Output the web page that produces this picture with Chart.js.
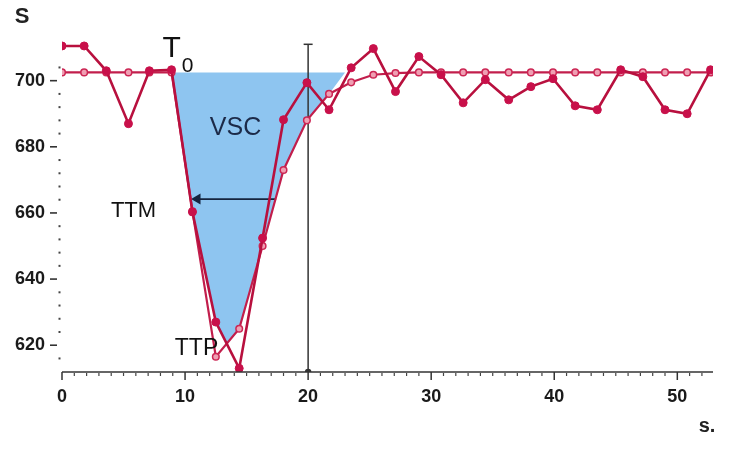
<!DOCTYPE html>
<html><head><meta charset="utf-8">
<script src="https://cdn.jsdelivr.net/npm/chart.js@4/dist/chart.umd.min.js"></script>
<style>html,body{margin:0;padding:0;background:#fff}#wrap{width:731px;height:451px}</style>
</head><body><div id="wrap"><canvas id="c" width="731" height="451"></canvas></div>
<script>
// ---- data ----
const times    = [0, 1.8, 3.6, 5.4, 7.1, 8.9, 10.6, 12.5, 14.4, 16.3, 18.0, 19.9, 21.7, 23.5, 25.3, 27.1, 29.0, 30.8, 32.6, 34.4, 36.3, 38.1, 39.9, 41.7, 43.5, 45.4, 47.2, 49.0, 50.8, 52.7];
const measured = [710.5, 710.5, 703, 687, 703, 703.3, 660.3, 627, 613, 652.4, 688.2, 699.4, 691.2, 703.9, 709.7, 696.7, 707.3, 701.8, 693.3, 700.3, 694.2, 698.2, 700.6, 692.4, 691.2, 703.3, 701.2, 691.2, 690, 703.3];
const fitted   = [702.5, 702.5, 702.5, 702.5, 702.5, 702.5, 660.5, 616.5, 625, 650, 673, 688, 696, 699.5, 701.8, 702.3, 702.5, 702.5, 702.5, 702.5, 702.5, 702.5, 702.5, 702.5, 702.5, 702.5, 702.5, 702.5, 702.5, 702.5];
const vscTimes  = [8.9, 10.6, 12.5, 13.4, 14.4, 16.3, 18.0, 19.9, 21.7, 23.0];
const vscValues = [702.5, 660.5, 627, 620.5, 625, 651, 673, 688, 696, 702.5];
const baselineValue = 702.5;
const markerTime = 20;
const markerRange = [611.9, 711];
const ttmTimes = [11.0, 17.4];
const ttmValue = 664.2;
const xTickValues = [0, 10, 20, 30, 40, 50];
const yTickValues = [620, 640, 660, 680, 700];
const xRange = [0, 52.9];
const yRange = [611.9, 712];

const pts = (xs, ys) => xs.map((x, i) => ({x, y: ys[i]}));
const FONT = "'Liberation Sans', Arial, sans-serif";

const decor = {
  id: 'decor',
  afterDraw(chart) {
    const {ctx, chartArea: ca, scales: {x, y}} = chart;
    ctx.save();
    ctx.strokeStyle = '#333'; ctx.lineWidth = 1.6;
    ctx.beginPath(); ctx.moveTo(ca.left, ca.bottom); ctx.lineTo(ca.right, ca.bottom); ctx.stroke();
    ctx.lineWidth = 1.5;
    xTickValues.forEach(v => { const px = x.getPixelForValue(v); ctx.beginPath(); ctx.moveTo(px, ca.bottom); ctx.lineTo(px, ca.bottom + 8); ctx.stroke(); });
    ctx.lineWidth = 1.2; ctx.strokeStyle = '#444';
    for (let v = 1; v <= Math.floor(xRange[1]); v++) {
      if (v % 10 === 0) continue;
      const px = x.getPixelForValue(v);
      ctx.beginPath(); ctx.moveTo(px, ca.bottom + 1); ctx.lineTo(px, ca.bottom + 4); ctx.stroke();
    }
    ctx.fillStyle = '#444';
    for (let v = 616; v <= 704; v += 4) {
      if (v % 20 === 0) continue;
      const py = y.getPixelForValue(v);
      ctx.fillRect(ca.left - 3.5, py - 1, 2, 2);
    }
    ctx.strokeStyle = '#333'; ctx.lineWidth = 1.6;
    yTickValues.forEach(v => { const py = y.getPixelForValue(v); ctx.beginPath(); ctx.moveTo(ca.left - 12, py); ctx.lineTo(ca.left - 5, py); ctx.stroke(); });

    const P = (vx, vy) => [x.getPixelForValue(vx), y.getPixelForValue(vy)];
    ctx.fillStyle = '#111';
    ctx.textAlign = 'left'; ctx.textBaseline = 'alphabetic';
    ctx.font = '30px ' + FONT; let p = P(8.17, 707.2); ctx.fillText('T', p[0], p[1]);
    ctx.font = '21px ' + FONT; p = P(9.73, 702.6); ctx.fillText('0', p[0], p[1]);
    ctx.textAlign = 'center'; ctx.textBaseline = 'middle';
    ctx.fillStyle = '#1c2a48'; ctx.font = '25px ' + FONT; p = P(14.1, 685.7); ctx.fillText('VSC', p[0], p[1]);
    ctx.fillStyle = '#111'; ctx.font = '22px ' + FONT; p = P(5.81, 660.5); ctx.fillText('TTM', p[0], p[1]);
    ctx.font = '23px ' + FONT; p = P(10.93, 618.9); ctx.fillText('TTP', p[0], p[1]);
    ctx.font = 'bold 22px ' + FONT; ctx.fillStyle = '#222';
    ctx.fillText('S', ca.left - 40, ca.top - 24);
    ctx.font = 'bold 20px ' + FONT;
    ctx.fillText('s.', ca.right - 6, 426);
    ctx.restore();
  }
};

new Chart(document.getElementById('c'), {
  type: 'line',
  data: {
    datasets: [
      { label: 'measured', data: pts(times, measured), order: 1,
        borderColor: '#b8103e', borderWidth: 2.6, tension: 0,
        pointRadius: 4, pointBackgroundColor: '#c8104a', pointBorderColor: '#c8104a', pointBorderWidth: 1 },
      { label: 'fitted', data: pts(times, fitted), order: 2,
        borderColor: '#c21e4c', borderWidth: 2.2, tension: 0,
        pointRadius: 3.3, pointBackgroundColor: '#ef9fb3', pointBorderColor: '#cc2654', pointBorderWidth: 1.5 },
      { label: 'marker', data: pts([markerTime, markerTime], markerRange), order: 3,
        borderColor: '#333', borderWidth: 1.5,
        pointStyle: ctx => ctx.dataIndex === 1 ? 'line' : 'circle',
        pointRadius: ctx => ctx.dataIndex === 1 ? 4.5 : 2.5,
        pointBorderColor: '#333', pointBackgroundColor: '#333', pointBorderWidth: 1.5 },
      { label: 'ttm', data: pts(ttmTimes, [ttmValue, ttmValue]), order: 4,
        borderColor: '#15243f', borderWidth: 1.8,
        pointStyle: 'triangle', pointRotation: 270,
        pointRadius: ctx => ctx.dataIndex === 0 ? 4.5 : 0,
        pointBackgroundColor: '#15243f', pointBorderColor: '#15243f' },
      { label: 'vsc', data: pts(vscTimes, vscValues), order: 10,
        borderWidth: 0, borderColor: 'rgba(0,0,0,0)', pointRadius: 0, tension: 0,
        fill: {value: baselineValue}, backgroundColor: 'rgb(142,197,240)' }
    ]
  },
  options: {
    responsive: false, animation: false,
    layout: {padding: {top: 41, right: 18, left: 0, bottom: 0}},
    plugins: {legend: {display: false}, tooltip: {enabled: false}},
    scales: {
      x: { type: 'linear', min: xRange[0], max: xRange[1],
        afterBuildTicks: s => { s.ticks = xTickValues.map(v => ({value: v})); },
        afterFit: s => { s.height = 79; },
        ticks: {font: {family: FONT, weight: 'bold', size: 18}, color: '#1a1a1a', padding: 14, maxRotation: 0, autoSkip: false},
        grid: {display: false, drawTicks: false}, border: {display: false} },
      y: { type: 'linear', min: yRange[0], max: yRange[1],
        afterBuildTicks: s => { s.ticks = yTickValues.map(v => ({value: v})); },
        afterFit: s => { s.width = 62; },
        ticks: {font: {family: FONT, weight: 'bold', size: 18}, color: '#1a1a1a', padding: 17, autoSkip: false},
        grid: {display: false, drawTicks: false}, border: {display: false} }
    }
  },
  plugins: [decor]
});
</script></body></html>
